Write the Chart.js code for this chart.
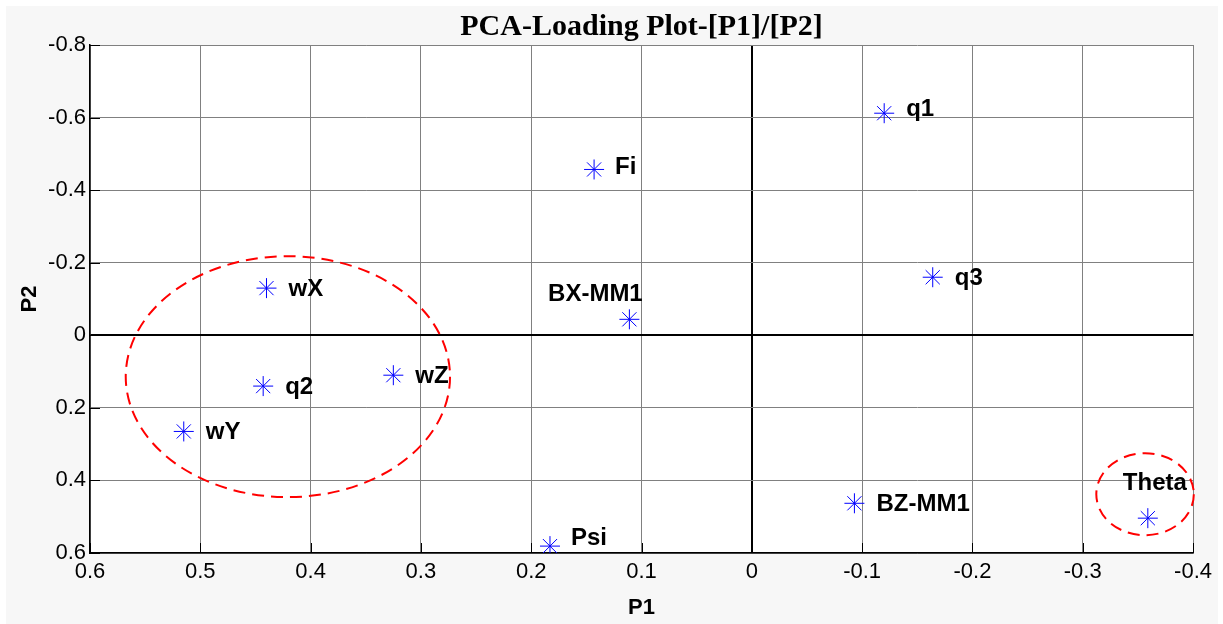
<!DOCTYPE html>
<html>
<head>
<meta charset="utf-8">
<script src="https://cdn.jsdelivr.net/npm/chart.js@4/dist/chart.umd.min.js"></script>
<style>
  html, body { margin: 0; padding: 0; background: #ffffff; }
  #wrap { position: absolute; left: 6px; top: 6px; width: 1212px; height: 618px; background: #f7f7f7; }
</style>
</head>
<body>
<div id="wrap"><canvas id="c" width="1212" height="618"></canvas></div>
<script>
// variables and their loadings
const names = ['q1', 'Fi', 'q3', 'BX-MM1', 'wX', 'wZ', 'q2', 'wY', 'Psi', 'BZ-MM1', 'Theta'];
const p1 = [-0.120, 0.143, -0.164, 0.111, 0.440, 0.325, 0.443, 0.515, 0.183, -0.093, -0.359];
const p2 = [-0.612, -0.457, -0.160, -0.044, -0.130, 0.110, 0.140, 0.265, 0.581, 0.463, 0.504];

// dashed groupings (centre and half-axes in P1/P2 units)
const ringP1 = [0.4206, -0.3565];
const ringP2 = [0.114, 0.438];
const ringRx = [0.147, 0.0442];
const ringRy = [0.332, 0.113];

const xTicks = [0.6, 0.5, 0.4, 0.3, 0.2, 0.1, 0, -0.1, -0.2, -0.3, -0.4];
const yTicks = [-0.8, -0.6, -0.4, -0.2, 0, 0.2, 0.4, 0.6];

// where each label sits relative to its marker
const labelPlace = {
  'BX-MM1': [-34, -25, 'center'],
  'Theta': [7, -35, 'center'],
  'q1': [22, -4, 'left'],
  'Psi': [21, -8, 'left'],
  'Fi': [21, -2, 'left']
};

const SANS = "'Liberation Sans', Arial, sans-serif";
const GRID = '#808080';

const fmt = v => {
  const r = Math.round(v * 10) / 10;
  return r === 0 ? '0' : String(r);
};

const bgPlugin = {
  id: 'plotBg',
  beforeDraw(chart) {
    const a = chart.chartArea, ctx = chart.ctx;
    ctx.save();
    ctx.fillStyle = '#ffffff';
    ctx.fillRect(a.left, a.top, a.right - a.left, a.bottom - a.top);
    ctx.restore();
  }
};

const ringPlugin = {
  id: 'rings',
  beforeDatasetsDraw(chart) {
    const ctx = chart.ctx, xs = chart.scales.x, ys = chart.scales.y;
    ctx.save();
    // inner tick marks like matlab
    ctx.strokeStyle = '#000';
    ctx.lineWidth = 1;
    xTicks.forEach(t => {
      const px = Math.round(xs.getPixelForValue(t)) + 0.5;
      ctx.beginPath();
      ctx.moveTo(px, chart.chartArea.bottom);
      ctx.lineTo(px, chart.chartArea.bottom - 10);
      ctx.stroke();
    });
    yTicks.forEach(t => {
      const py = Math.round(ys.getPixelForValue(t)) + 0.5;
      ctx.beginPath();
      ctx.moveTo(chart.chartArea.left, py);
      ctx.lineTo(chart.chartArea.left + 10, py);
      ctx.stroke();
    });
    ctx.strokeStyle = '#ff0000';
    ctx.lineWidth = 2;
    ctx.setLineDash([12, 7]);
    for (let i = 0; i < ringP1.length; i++) {
      const cx = xs.getPixelForValue(ringP1[i]);
      const cy = ys.getPixelForValue(ringP2[i]);
      const rx = Math.abs(xs.getPixelForValue(ringP1[i] + ringRx[i]) - cx);
      const ry = Math.abs(ys.getPixelForValue(ringP2[i] + ringRy[i]) - cy);
      ctx.beginPath();
      ctx.ellipse(cx, cy, rx, ry, 0, 0, Math.PI * 2);
      ctx.stroke();
    }
    ctx.restore();
  }
};

const labelPlugin = {
  id: 'pointNames',
  afterDatasetsDraw(chart) {
    const ctx = chart.ctx;
    const meta = chart.getDatasetMeta(0);
    ctx.save();
    ctx.font = 'bold 24px ' + SANS;
    ctx.fillStyle = '#000';
    ctx.textBaseline = 'middle';
    meta.data.forEach((pt, i) => {
      const place = labelPlace[names[i]] || [22, 1, 'left'];
      ctx.textAlign = place[2];
      ctx.fillText(names[i], pt.x + place[0], pt.y + place[1]);
    });
    ctx.restore();
  }
};

new Chart(document.getElementById('c'), {
  type: 'scatter',
  data: {
    datasets: [{
      label: 'loadings',
      data: p1.map((v, i) => ({ x: v, y: p2[i] })),
      pointStyle: 'star',
      radius: 10,
      hoverRadius: 10,
      borderColor: '#0000ff',
      backgroundColor: '#0000ff',
      borderWidth: 1
    }]
  },
  options: {
    responsive: false,
    animation: false,
    devicePixelRatio: 1,
    layout: { padding: { left: 0, right: 20, top: 0, bottom: 0 } },
    plugins: {
      legend: { display: false },
      tooltip: { enabled: false },
      title: {
        display: true,
        fullSize: false,
        text: 'PCA-Loading Plot-[P1]/[P2]',
        color: '#000',
        font: { family: "'Liberation Serif', 'Times New Roman', serif", size: 30, weight: 'bold', lineHeight: 1.2 },
        padding: { top: 3, bottom: 0 }
      }
    },
    scales: {
      x: {
        type: 'linear',
        position: 'bottom',
        min: -0.4,
        max: 0.6,
        reverse: true,
        afterFit: s => { s.height = 71; },
        afterBuildTicks: s => { s.ticks = xTicks.map(v => ({ value: v })); },
        ticks: { callback: fmt, color: '#000', padding: 6, maxRotation: 0, autoSkip: false, font: { family: SANS, size: 22 } },
        grid: {
          drawTicks: false,
          color: c => (c.tick && c.tick.value === 0 ? '#000' : GRID),
          lineWidth: c => (c.tick && c.tick.value === 0 ? 2 : 1)
        },
        border: { display: true, color: '#000', width: 1.5 },
        title: { display: true, text: 'P1', color: '#000', font: { family: SANS, size: 22, weight: 'bold' }, padding: { top: 0, bottom: 3 } }
      },
      y: {
        type: 'linear',
        min: -0.8,
        max: 0.6,
        reverse: true,
        afterFit: s => { s.width = 84; },
        afterBuildTicks: s => { s.ticks = yTicks.map(v => ({ value: v })); },
        ticks: { callback: fmt, color: '#000', padding: 4, autoSkip: false, font: { family: SANS, size: 22 } },
        grid: {
          drawTicks: false,
          color: c => (c.tick && c.tick.value === 0 ? '#000' : GRID),
          lineWidth: c => (c.tick && c.tick.value === 0 ? 2 : 1)
        },
        border: { display: true, color: '#000', width: 1.5 },
        title: { display: true, text: 'P2', color: '#000', font: { family: SANS, size: 22, weight: 'bold' }, padding: { top: 11, bottom: 0 } }
      }
    }
  },
  plugins: [bgPlugin, ringPlugin, labelPlugin]
});
</script>
</body>
</html>
